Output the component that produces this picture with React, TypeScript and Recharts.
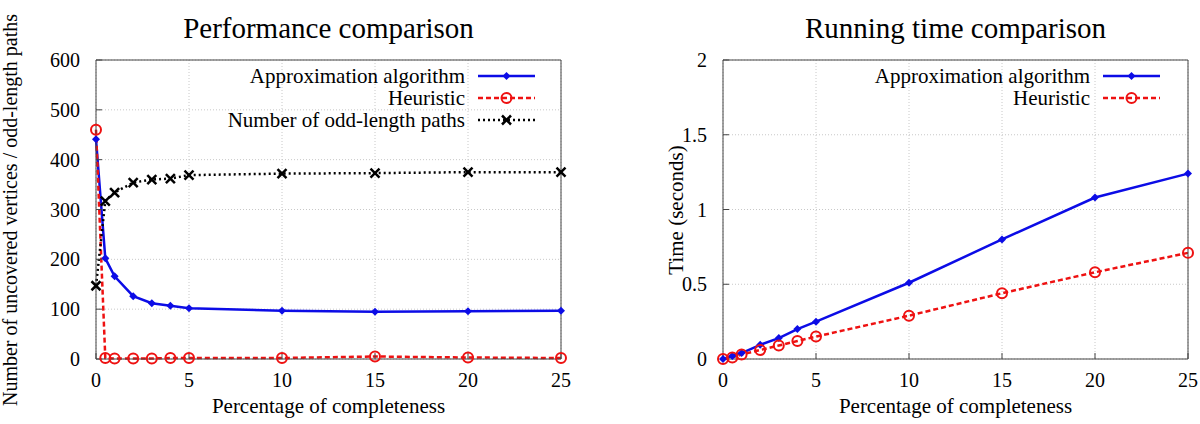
import { LineChart, Line, XAxis, YAxis, CartesianGrid, Legend } from 'recharts'

// x values: percentage of completeness
const completeness = [0, 0.5, 1, 2, 3, 4, 5, 10, 15, 20, 25]

// left chart: number of uncovered vertices / odd-length paths
const approxUncovered = [441, 202, 166, 126, 112, 107, 102, 97, 95, 96, 97]
const heuristicUncovered = [460, 2, 1, 1, 1, 2, 2, 2, 5, 3, 2]
const oddPaths = [147, 317, 334, 354, 360, 362, 369, 372, 373, 375, 375]

// right chart: running time in seconds
const approxTime = [0, 0.02, 0.04, 0.095, 0.14, 0.2, 0.25, 0.51, 0.8, 1.08, 1.24]
const heuristicTime = [0, 0.01, 0.03, 0.06, 0.09, 0.12, 0.15, 0.29, 0.44, 0.58, 0.71]

const xTicks = [0, 5, 10, 15, 20, 25]
const countTicks = [0, 100, 200, 300, 400, 500, 600]
const timeTicks = [0, 0.5, 1, 1.5, 2]

const perfData = completeness.map((x, i) => ({
  x,
  approx: approxUncovered[i],
  heuristic: heuristicUncovered[i],
  odd: oddPaths[i],
}))
const timeData = completeness.map((x, i) => ({ x, approx: approxTime[i], heuristic: heuristicTime[i] }))

const FONT = "'Liberation Serif', 'DejaVu Serif', serif"
const BLUE = '#0c0ce6'
const RED = '#ee1111'
const BORDER = '#444'
const tickStyle = { fill: '#000', fontSize: 20, fontFamily: FONT }

function marker(kind: string, cx: number, cy: number, key?: string | number) {
  if (kind === 'approx')
    return <path key={key} d={`M${cx},${cy - 4}L${cx + 4},${cy}L${cx},${cy + 4}L${cx - 4},${cy}Z`} fill={BLUE} />
  if (kind === 'heuristic')
    return <circle key={key} cx={cx} cy={cy} r={5} fill="none" stroke={RED} strokeWidth={2} />
  return (
    <g key={key} stroke="#000" strokeWidth={2.5}>
      <line x1={cx - 4.5} y1={cy - 4.5} x2={cx + 4.5} y2={cy + 4.5} />
      <line x1={cx - 4.5} y1={cy + 4.5} x2={cx + 4.5} y2={cy - 4.5} />
    </g>
  )
}

const dotFor = (kind: string) => (p: any) => marker(kind, p.cx, p.cy, p.index)

function LegendBox({ payload, width }: any) {
  return (
    <div style={{ width, fontFamily: FONT, fontSize: 21, color: '#000' }}>
      {(payload || []).map((entry: any) => (
        <div key={entry.dataKey} style={{ display: 'flex', justifyContent: 'flex-end', alignItems: 'center', height: 22 }}>
          <span style={{ lineHeight: '22px', whiteSpace: 'nowrap' }}>{entry.value}</span>
          <svg width={70} height={22}>
            <line x1={13} x2={70} y1={11} y2={11} stroke={entry.color} strokeWidth={2.5}
              strokeDasharray={entry.payload?.strokeDasharray} />
            {marker(entry.dataKey, 41.5, 11)}
          </svg>
        </div>
      ))}
    </div>
  )
}

function SideLabel({ text, posX, posY, size }: any) {
  return (
    <text x={posX} y={posY} transform={`rotate(-90 ${posX} ${posY})`} textAnchor="middle"
      dominantBaseline="central" fontFamily={FONT} fontSize={size} fill="#000">
      {text}
    </text>
  )
}

export default function App() {
  return (
    <div style={{ position: 'absolute', left: 0, top: 0, width: 1200, height: 424, display: 'flex', background: '#fff' }}>
      <LineChart width={600} height={424} data={perfData} margin={{ top: 0, right: 0, bottom: 0, left: 0 }}>
        <CartesianGrid stroke="#c8c8c8" strokeDasharray="1 2" />
        <XAxis dataKey="x" type="number" domain={[0, 25]} ticks={xTicks} height={65} stroke={BORDER}
          tickSize={-6} tickMargin={20} tick={tickStyle}
          label={{ value: 'Percentage of completeness', position: 'insideBottom', offset: 11, fill: '#000', fontSize: 21, fontFamily: FONT }} />
        <XAxis xAxisId="top" orientation="top" dataKey="x" type="number" domain={[0, 25]} ticks={xTicks} height={60}
          stroke={BORDER} tickSize={-6} tick={false}
          label={{ value: 'Performance comparison', position: 'insideTop', offset: 17, fill: '#000', fontSize: 29, fontFamily: FONT }} />
        <YAxis type="number" domain={[0, 600]} ticks={countTicks} width={96} stroke={BORDER}
          tickSize={-6} tickMargin={22} tick={tickStyle}
          label={<SideLabel text="Number of uncovered vertices / odd-length paths" posX={10} posY={210} size={20} />} />
        <YAxis yAxisId="right" orientation="right" type="number" domain={[0, 600]} ticks={countTicks} width={39}
          stroke={BORDER} tickSize={-6} tick={false} />
        <Legend layout="vertical" align="center" verticalAlign="middle"
          wrapperStyle={{ left: 0, top: 65, width: 535 }}
          content={(props: any) => <LegendBox {...props} width={535} />} />
        <Line dataKey="approx" name="Approximation algorithm" stroke={BLUE} strokeWidth={2.5}
          dot={dotFor('approx')} isAnimationActive={false} />
        <Line dataKey="heuristic" name="Heuristic" stroke={RED} strokeWidth={2.5} strokeDasharray="5 3"
          dot={dotFor('heuristic')} isAnimationActive={false} />
        <Line dataKey="odd" name="Number of odd-length paths" stroke="#000" strokeWidth={2.5} strokeDasharray="2 3"
          dot={dotFor('odd')} isAnimationActive={false} />
      </LineChart>

      <LineChart width={600} height={424} data={timeData} margin={{ top: 0, right: 0, bottom: 0, left: 0 }}>
        <CartesianGrid stroke="#c8c8c8" strokeDasharray="1 2" />
        <XAxis dataKey="x" type="number" domain={[0, 25]} ticks={xTicks} height={65} stroke={BORDER}
          tickSize={-6} tickMargin={20} tick={tickStyle}
          label={{ value: 'Percentage of completeness', position: 'insideBottom', offset: 11, fill: '#000', fontSize: 21, fontFamily: FONT }} />
        <XAxis xAxisId="top" orientation="top" dataKey="x" type="number" domain={[0, 25]} ticks={xTicks} height={60}
          stroke={BORDER} tickSize={-6} tick={false}
          label={{ value: 'Running time comparison', position: 'insideTop', offset: 17, fill: '#000', fontSize: 29, fontFamily: FONT }} />
        <YAxis type="number" domain={[0, 2]} ticks={timeTicks} width={123} stroke={BORDER}
          tickSize={-6} tickMargin={22} tick={tickStyle}
          label={<SideLabel text="Time (seconds)" posX={76} posY={210} size={21} />} />
        <YAxis yAxisId="right" orientation="right" type="number" domain={[0, 2]} ticks={timeTicks} width={12}
          stroke={BORDER} tickSize={-6} tick={false} />
        <Legend layout="vertical" align="center" verticalAlign="middle"
          wrapperStyle={{ left: 0, top: 65, width: 560 }}
          content={(props: any) => <LegendBox {...props} width={560} />} />
        <Line dataKey="approx" name="Approximation algorithm" stroke={BLUE} strokeWidth={2.5}
          dot={dotFor('approx')} isAnimationActive={false} />
        <Line dataKey="heuristic" name="Heuristic" stroke={RED} strokeWidth={2.5} strokeDasharray="5 3"
          dot={dotFor('heuristic')} isAnimationActive={false} />
      </LineChart>
    </div>
  )
}
